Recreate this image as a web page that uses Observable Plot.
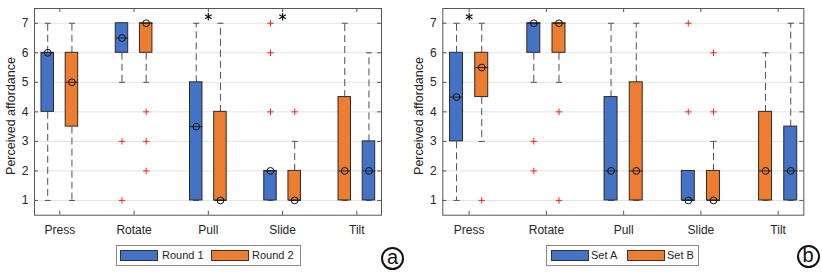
<!DOCTYPE html>
<html><head><meta charset="utf-8">
<script src="https://cdn.jsdelivr.net/npm/d3@7"></script>
<script src="https://cdn.jsdelivr.net/npm/@observablehq/plot@0.6"></script>
<style>
body{margin:0;background:#fff;font-family:"Liberation Sans",Arial,sans-serif;}
#wrap{position:relative;width:822px;height:274px;overflow:hidden;background:#fff;}
.panel{position:absolute;top:0;}
.legend{position:absolute;top:245px;height:21px;border:1px solid #8a8a8a;box-sizing:border-box;background:#fff;}
.sw{position:absolute;top:4px;width:38px;height:11px;border:1px solid #333;box-sizing:border-box;}
.lt{position:absolute;top:3px;font-size:11px;line-height:13px;color:#262626;white-space:nowrap;}
.circ{position:absolute;width:23px;height:23px;border:2px solid #111;border-radius:50%;box-sizing:border-box;font-size:20px;line-height:17px;text-align:center;color:#111;font-family:"Liberation Sans",Arial,sans-serif;}
.ylab{position:absolute;width:200px;height:16px;line-height:16px;text-align:center;font-size:12.5px;color:#262626;transform:rotate(-90deg);transform-origin:center center;white-space:nowrap;}
</style></head><body><div id="wrap"></div>
<script>
const categories = ["Press","Rotate","Pull","Slide","Tilt"];
const yTicks = [1,2,3,4,5,6,7];
const colors = ["#4472C4","#ED7D31"];
const yLabel = "Perceived affordance";
// side of the first series in each category (-1 left, +1 right)
const firstSide = [-1,-1,-1,-1,1];

// Panel (a) — Round 1
const aR1Q1  = [4, 6, 1, 1, 1];
const aR1Med = [6, 6.5, 3.5, 2, 2];
const aR1Q3  = [6, 7, 5, 2, 3];
const aR1Lo  = [1, 5, 1, 1, 1];
const aR1Hi  = [7, 7, 7, 2, 6];
const aR1Out = [[], [3, 1], [], [7, 6, 4], []];
// Panel (a) — Round 2
const aR2Q1  = [3.5, 6, 1, 1, 1];
const aR2Med = [5, 7, 1, 1, 2];
const aR2Q3  = [6, 7, 4, 2, 4.5];
const aR2Lo  = [1, 5, 1, 1, 1];
const aR2Hi  = [7, 7, 7, 3, 7];
const aR2Out = [[], [4, 3, 2], [], [4], []];
const aSig = ["Pull", "Slide"];

// Panel (b) — Set A
const bAQ1  = [3, 6, 1, 1, 1];
const bAMed = [4.5, 7, 2, 1, 2];
const bAQ3  = [6, 7, 4.5, 2, 3.5];
const bALo  = [1, 5, 1, 1, 1];
const bAHi  = [7, 7, 7, 2, 7];
const bAOut = [[], [3, 2], [], [7, 4], []];
// Panel (b) — Set B
const bBQ1  = [4.5, 6, 1, 1, 1];
const bBMed = [5.5, 7, 2, 1, 2];
const bBQ3  = [6, 7, 5, 2, 4];
const bBLo  = [3, 5, 1, 1, 1];
const bBHi  = [7, 7, 7, 3, 6];
const bBOut = [[1], [4, 1], [], [6, 4], []];
const bSig = ["Press"];

const seriesA = [
  {name: "Round 1", q1: aR1Q1, med: aR1Med, q3: aR1Q3, lo: aR1Lo, hi: aR1Hi, out: aR1Out},
  {name: "Round 2", q1: aR2Q1, med: aR2Med, q3: aR2Q3, lo: aR2Lo, hi: aR2Hi, out: aR2Out}
];
const seriesB = [
  {name: "Set A", q1: bAQ1, med: bAMed, q3: bAQ3, lo: bALo, hi: bAHi, out: bAOut},
  {name: "Set B", q1: bBQ1, med: bBMed, q3: bBQ3, lo: bBLo, hi: bBHi, out: bBOut}
];

const plusSymbol = {draw(ctx, size) { const r = Math.sqrt(size / Math.PI); ctx.moveTo(-r, 0); ctx.lineTo(r, 0); ctx.moveTo(0, -r); ctx.lineTo(0, r); }};

function panel(series, sig, opt) {
  const xDom = [0.659, 5.332], yDom = [0.5, 7.5];
  const off = 0.163, bw = 0.084, cap = 0.04;
  const rows = [], outs = [];
  series.forEach((s, si) => {
    categories.forEach((c, i) => {
      const side = si === 0 ? firstSide[i] : -firstSide[i];
      const x = i + 1 + side * off;
      rows.push({x, q1: s.q1[i], med: s.med[i], q3: s.q3[i], lo: s.lo[i], hi: s.hi[i], color: colors[si]});
      s.out[i].forEach(v => outs.push({x, y: v}));
    });
  });
  const sigRows = sig.map(c => ({x: categories.indexOf(c) + 1, y: 7.22}));
  const W = opt.width, pw = W - opt.ml - opt.mr;
  const xpx = (xDom[1] - xDom[0]) / pw; // data units per px (x)
  const ypx = (yDom[1] - yDom[0]) / (240 - 8 - 25.3);
  const catPos = categories.map((c, i) => i + 1);
  return Plot.plot({
    width: W, height: 240,
    marginLeft: opt.ml, marginRight: opt.mr, marginTop: 8, marginBottom: 25.3,
    style: {fontFamily: '"Liberation Sans", Arial, sans-serif', fontSize: "12px", color: "#262626", background: "transparent"},
    x: {type: "linear", domain: xDom},
    y: {domain: yDom},
    marks: [
      Plot.ruleY(yTicks, {stroke: "#e3e3e3", strokeWidth: 1}),
      Plot.link(rows, {x1: "x", x2: "x", y1: "q3", y2: "hi", stroke: "#505050", strokeDasharray: "7,4"}),
      Plot.link(rows, {x1: "x", x2: "x", y1: "q1", y2: "lo", stroke: "#505050", strokeDasharray: "7,4"}),
      Plot.link(rows, {x1: d => d.x - cap, x2: d => d.x + cap, y1: "hi", y2: "hi", stroke: "#505050"}),
      Plot.link(rows, {x1: d => d.x - cap, x2: d => d.x + cap, y1: "lo", y2: "lo", stroke: "#505050"}),
      Plot.rect(rows, {x1: d => d.x - bw, x2: d => d.x + bw, y1: "q1", y2: "q3", fill: "color", stroke: "#2a2a2a", strokeWidth: 1}),
      Plot.link(rows, {x1: d => d.x - bw, x2: d => d.x + bw, y1: "med", y2: "med", stroke: "#222"}),
      Plot.dot(rows, {x: "x", y: "med", r: 3.4, stroke: "#111", fill: "none", strokeWidth: 1}),
      Plot.dot(outs, {x: "x", y: "y", r: 3.2, symbol: plusSymbol, stroke: "#ff2020", fill: "none", strokeWidth: 1}),
      Plot.dot(sigRows, {x: "x", y: "y", r: 3.6, symbol: "asterisk", stroke: "#111", strokeWidth: 1.2}),
      // inward ticks
      Plot.ruleY(yTicks, {x1: xDom[0], x2: xDom[0] + 4 * xpx, stroke: "#555"}),
      Plot.ruleY(yTicks, {x1: xDom[1] - 4 * xpx, x2: xDom[1], stroke: "#555"}),
      Plot.ruleX(catPos, {y1: yDom[0], y2: yDom[0] + 4 * ypx, stroke: "#555"}),
      Plot.ruleX(catPos, {y1: yDom[1] - 4 * ypx, y2: yDom[1], stroke: "#555"}),
      Plot.frame({stroke: "#555"}),
      Plot.axisY({ticks: yTicks, tickFormat: d => String(d), tickSize: 0, tickPadding: 6, label: null, fontSize: 12}),
      Plot.axisX({ticks: catPos, tickFormat: i => categories[i - 1], tickSize: 0, tickPadding: 10, label: null, fontSize: 12})
    ]
  });
}

const wrap = document.getElementById("wrap");
function place(svg, left) {
  const d = document.createElement("div");
  d.className = "panel"; d.style.left = left + "px";
  d.appendChild(svg); wrap.appendChild(d);
}
place(panel(seriesA, aSig, {width: 411, ml: 34, mr: 30}), 0);
place(panel(seriesB, bSig, {width: 411, ml: 31.3, mr: 18.7}), 411);

function ylab(cx, cy) {
  const l = document.createElement("div"); l.className = "ylab";
  l.style.left = (cx - 100) + "px"; l.style.top = (cy - 8) + "px";
  l.textContent = yLabel; wrap.appendChild(l);
}
ylab(10.5, 116);
ylab(411 + 8, 116);

function legend(left, width, items) {
  const L = document.createElement("div");
  L.className = "legend"; L.style.left = left + "px"; L.style.width = width + "px";
  items.forEach(it => {
    const s = document.createElement("div"); s.className = "sw";
    s.style.left = it.sw + "px"; s.style.background = it.color; L.appendChild(s);
    const t = document.createElement("div"); t.className = "lt";
    t.style.left = it.tx + "px"; t.textContent = it.name; L.appendChild(t);
  });
  wrap.appendChild(L);
}
legend(116, 185, [
  {sw: 3, tx: 45, name: seriesA[0].name, color: colors[0]},
  {sw: 94, tx: 135, name: seriesA[1].name, color: colors[1]}
]);
legend(546, 153, [
  {sw: 4, tx: 44, name: seriesB[0].name, color: colors[0]},
  {sw: 80, tx: 120, name: seriesB[1].name, color: colors[1]}
]);

function circ(cx, cy, ch) {
  const c = document.createElement("div"); c.className = "circ";
  c.style.left = (cx - 11.5) + "px"; c.style.top = (cy - 11.5) + "px";
  c.textContent = ch; wrap.appendChild(c);
}
circ(392.5, 258, "a");
circ(808, 256.5, "b");
</script></body></html>
